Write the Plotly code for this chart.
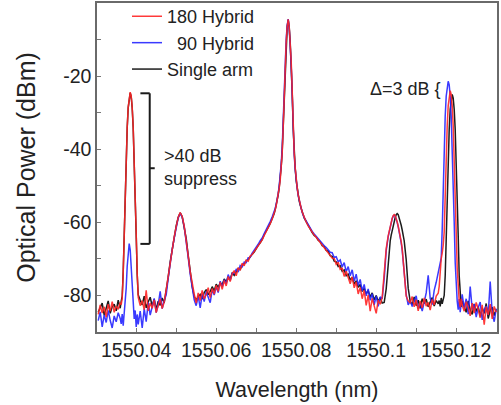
import plotly.graph_objects as go


# -----------------------------
# 1) DATA (read off the spectrum)
# -----------------------------
# wavelength sample points, in pm above 1550 nm
offset_pm = [
    30.5, 31.0, 31.5, 32.0, 32.5, 33.0, 33.5, 34.0, 34.5, 35.0, 35.5, 36.0,
    36.25, 36.5, 36.75, 37.0, 37.25, 37.5, 37.75, 38.0, 38.25, 38.5, 38.75, 39.0,
    39.25, 39.5, 39.75, 40.0, 40.25, 40.5,
    41.0, 41.5, 42.0, 42.5, 43.0, 43.5, 44.0, 44.5, 45.0, 45.5, 46.0, 46.5, 47.0,
    47.5, 48.0, 48.5, 49.0, 49.5, 50.0, 50.5, 51.0, 51.5, 52.0, 52.5, 53.0, 53.5,
    54.0, 54.5,
    55.0, 55.5, 56.0, 56.5, 57.0, 57.5, 58.0, 58.5, 59.0, 59.5, 60.0, 60.5, 61.0,
    61.5, 62.0, 62.5, 63.0, 63.5, 64.0, 64.5, 65.0, 65.5, 66.0, 66.5, 67.0, 67.5,
    68.0, 68.5, 69.0, 69.5, 70.0, 70.5, 71.0, 71.5, 72.0, 72.5, 73.0, 73.5, 74.0,
    74.5,
    74.75, 75.0, 75.25, 75.5, 75.75, 76.0, 76.25, 76.5, 76.75, 77.0, 77.25, 77.5,
    77.75, 78.0, 78.25, 78.5, 78.75, 79.0, 79.25, 79.5, 79.75, 80.0, 80.25, 80.5,
    80.75, 81.0, 81.25, 81.5,
    82.0, 82.5, 83.0, 83.5, 84.0, 84.5, 85.0, 85.5, 86.0, 86.5, 87.0, 87.5, 88.0,
    88.5, 89.0, 89.5, 90.0, 90.5, 91.0, 91.5, 92.0, 92.5, 93.0, 93.5, 94.0, 94.5,
    95.0, 95.5, 96.0, 96.5, 97.0, 97.5, 98.0, 98.5, 99.0, 99.5, 100.0, 100.5,
    101.0, 101.5,
    102.0, 102.5, 103.0, 103.25, 103.5, 103.75, 104.0, 104.25, 104.5, 104.75,
    105.0, 105.25, 105.5, 105.75, 106.0, 106.25, 106.5, 106.75, 107.0, 107.5, 108.0,
    108.5, 109.0, 109.5, 110.0, 110.5, 111.0, 111.5, 112.0, 112.5, 113.0, 113.5,
    114.0, 114.5, 115.0, 115.5,
    115.75, 116.0, 116.25, 116.5, 116.75, 117.0, 117.25, 117.5, 117.75, 118.0,
    118.25, 118.5, 118.75, 119.0, 119.25, 119.5, 119.75, 120.0, 120.25, 120.5,
    120.75, 121.0, 121.25, 121.5,
    122.0, 122.5, 123.0, 123.5, 124.0, 124.5, 125.0, 125.5, 126.0, 126.5, 127.0,
    127.5, 128.0, 128.5, 129.0, 129.5, 130.0,
]

# optical power (dBm), 180 hybrid
power_180 = [
    -85.2, -82.6, -84.8, -83.1, -85.9, -82.4, -84.3, -81.7, -84.6, -82.9, -83.8, -81.9,
    -82.5, -80.8, -74.0, -63.0, -52.0, -42.0, -34.0, -28.5, -25.4, -24.4, -25.4, -28.5,
    -34.0, -42.0, -52.0, -63.0, -74.0, -80.5,
    -82.8, -81.4, -83.9, -78.6, -84.2, -82.1, -83.5, -81.2, -84.7, -82.4, -80.9, -83.6, -81.8,
    -78.4, -74.6, -70.5, -67.0, -64.0, -61.2, -58.6, -57.3, -58.4, -61.0, -64.6, -69.2, -73.5,
    -77.2, -79.6,
    -82.1, -79.3, -81.4, -78.6, -80.9, -79.8, -77.9, -80.6, -78.1, -79.6, -77.2, -78.9, -76.4,
    -78.3, -75.9, -77.4, -74.8, -76.2, -74.1, -73.2, -74.6, -72.4, -73.1, -71.2, -71.9, -70.3,
    -70.6, -69.2, -68.8, -68.0, -67.2, -66.6, -65.5, -64.8, -63.6, -62.6, -61.6, -60.4, -59.1,
    -57.7,
    -56.6, -55.4, -54.1, -52.6, -50.6, -48.5, -45.0, -41.0, -34.0, -24.0, -16.0, -10.5,
    -6.5, -4.5, -6.5, -10.5, -16.0, -24.0, -34.0, -41.0, -45.0, -48.5, -50.6, -52.5,
    -54.0, -55.2, -56.2, -57.2,
    -58.7, -59.9, -61.0, -61.9, -62.7, -63.5, -64.1, -64.8, -65.4, -66.2, -66.7, -67.6, -68.1,
    -68.9, -69.8, -69.9, -71.5, -70.9, -72.9, -72.6, -74.8, -73.4, -75.2, -76.8, -74.9, -77.9,
    -76.3, -79.6, -77.8, -80.9, -78.6, -82.7, -79.9, -84.3, -80.8, -82.6, -84.9, -81.3,
    -82.4, -80.6,
    -74.5, -67.2, -63.7, -62.3, -61.0, -59.9, -58.9, -58.2, -57.9, -58.2,
    -58.9, -59.9, -61.0, -62.3, -63.7, -65.3, -67.2, -70.3, -74.2, -80.2, -81.5,
    -82.0, -80.3, -83.1, -81.2, -84.2, -81.5, -83.4, -80.7, -82.9, -81.9, -84.0,
    -81.1, -82.6, -80.2, -79.4,
    -77.5, -72.5, -70.0, -68.4, -66.3, -62.6, -51.6, -41.6, -33.6, -28.1,
    -25.0, -24.0, -25.0, -28.1, -33.6, -41.6, -51.6, -62.6, -72.5, -78.6,
    -81.4, -83.2, -80.9, -82.6,
    -84.3, -81.7, -83.2, -85.6, -82.1, -84.8, -81.9, -83.7, -86.1, -82.6, -88.0,
    -83.1, -85.3, -82.4, -86.4, -83.0, -84.6,
]

# optical power (dBm), 90 hybrid
power_90 = [
    -86.9, -84.5, -88.6, -85.3, -87.4, -84.1, -86.8, -88.9, -85.6, -87.2, -84.7, -86.3,
    -87.8, -85.1, -88.3, -84.6, -82.8, -78.0, -72.0, -67.5, -65.8, -67.5, -72.0, -78.0,
    -83.2, -86.4, -84.1, -88.6, -85.2, -87.9,
    -84.3, -88.9, -83.6, -87.2, -81.9, -85.4, -83.1, -80.8, -84.7, -82.5, -78.9, -83.6, -81.4,
    -79.8, -75.3, -70.9, -67.4, -64.3, -61.3, -58.8, -57.5, -58.6, -61.2, -64.9, -69.6, -74.2,
    -78.4, -81.2,
    -82.8, -80.1, -83.4, -79.6, -81.7, -78.9, -80.5, -82.0, -78.4, -79.9, -77.6, -79.2, -76.1,
    -77.7, -75.7, -76.8, -74.3, -75.9, -73.9, -74.0, -72.9, -73.6, -71.8, -72.2, -70.9, -71.0,
    -69.7, -69.6, -68.4, -67.7, -66.9, -66.0, -65.0, -64.3, -63.1, -62.1, -60.9, -59.8, -58.5,
    -57.1,
    -56.2, -55.0, -53.7, -52.1, -50.0, -47.7, -44.0, -39.5, -32.0, -22.3, -15.0, -9.8,
    -6.1, -4.4, -6.9, -11.2, -17.0, -25.2, -35.0, -41.6, -45.5, -48.8, -50.8, -52.7,
    -54.1, -55.3, -56.3, -57.3,
    -58.7, -59.7, -60.8, -61.7, -62.5, -63.2, -63.9, -64.4, -65.2, -65.7, -66.4, -66.9, -67.5,
    -68.2, -68.3, -69.6, -69.4, -70.8, -70.3, -72.2, -71.0, -73.5, -72.1, -74.6, -73.0, -76.1,
    -74.2, -77.3, -75.6, -78.8, -77.0, -80.1, -78.2, -81.3, -79.5, -82.6, -80.1, -83.0,
    -80.4, -80.9,
    -75.4, -67.8, -63.9, -62.4, -61.1, -60.0, -59.0, -58.3, -58.0, -58.3,
    -59.0, -60.0, -61.2, -62.5, -64.0, -65.6, -67.6, -70.8, -74.6, -79.8, -82.6,
    -81.5, -83.0, -81.2, -80.1, -83.6, -82.0, -84.3, -81.6, -79.3, -74.5, -80.8,
    -82.5, -78.6, -76.4, -73.8,
    -73.0, -71.2, -69.8, -62.0, -49.0, -39.0, -31.0, -25.5, -22.4, -21.4,
    -22.4, -25.5, -31.0, -39.0, -49.0, -60.0, -71.0, -78.5, -81.6, -83.9,
    -81.0, -84.6, -82.3, -79.7,
    -83.5, -80.9, -85.1, -77.6, -83.8, -82.4, -85.9, -83.3, -81.8, -86.7, -84.0,
    -82.9, -85.4, -76.2, -84.8, -87.2, -83.6,
]

# optical power (dBm), single arm
power_single = [
    -84.6, -83.3, -82.1, -85.4, -83.7, -81.5, -84.9, -83.1, -82.4, -84.2, -81.3, -83.5,
    -81.6, -80.2, -73.5, -62.5, -51.8, -42.0, -34.2, -28.7, -25.6, -24.6, -25.6, -28.7,
    -34.2, -42.2, -52.3, -63.5, -74.2, -79.8,
    -81.3, -82.6, -80.2, -83.4, -81.8, -80.5, -82.9, -81.1, -83.8, -81.6, -82.7, -80.7, -82.0,
    -79.0, -75.0, -70.8, -67.2, -64.1, -61.0, -58.7, -57.4, -58.5, -61.1, -64.4, -69.0, -73.8,
    -77.6, -80.3,
    -81.2, -80.4, -79.7, -81.0, -79.2, -78.4, -79.8, -78.9, -77.6, -78.8, -76.9, -77.8, -76.6,
    -77.1, -75.5, -76.3, -74.9, -75.6, -73.8, -74.5, -73.5, -72.6, -72.9, -71.6, -71.4, -70.5,
    -70.2, -69.3, -68.7, -68.1, -67.0, -66.3, -65.6, -64.7, -63.4, -62.5, -61.4, -60.3, -59.0,
    -57.6,
    -56.5, -55.3, -54.0, -52.5, -50.5, -48.4, -44.8, -40.6, -33.6, -23.8, -15.9, -10.4,
    -6.5, -4.6, -6.6, -10.7, -16.3, -24.4, -34.3, -41.2, -45.2, -48.6, -50.7, -52.6,
    -54.1, -55.3, -56.3, -57.3,
    -58.8, -59.8, -60.9, -61.8, -62.8, -63.6, -64.0, -64.9, -65.3, -66.4, -66.6, -67.7, -67.9,
    -69.1, -69.3, -70.6, -70.8, -72.1, -71.9, -73.4, -73.0, -74.6, -74.2, -75.8, -75.1, -76.9,
    -76.0, -77.8, -77.0, -78.9, -78.1, -79.5, -78.7, -80.4, -79.3, -81.2, -80.0, -81.6,
    -80.6, -82.1,
    -81.9, -78.2, -70.2, -67.0, -65.1, -63.5, -62.1, -60.8, -59.7, -58.7,
    -57.9, -57.6, -57.9, -58.7, -59.7, -60.8, -62.1, -63.5, -65.1, -70.2, -78.0,
    -81.6, -82.5, -80.4, -82.8, -81.3, -83.5, -80.9, -82.2, -81.0, -83.1, -81.8,
    -80.6, -82.9, -81.4, -82.3,
    -81.4, -83.0, -80.7, -82.3, -81.1, -80.0, -74.6, -63.6, -52.6, -42.6,
    -34.6, -29.1, -26.0, -25.0, -26.0, -29.1, -34.6, -42.6, -52.6, -63.6,
    -74.6, -80.8, -83.1, -81.5,
    -82.8, -84.6, -81.5, -83.9, -85.2, -82.3, -84.4, -83.0, -85.7, -83.4, -84.9,
    -82.2, -86.3, -84.0, -83.2, -85.5, -83.8,
]

x_tick_vals = [1550.04, 1550.05, 1550.06, 1550.07, 1550.08, 1550.09, 1550.10, 1550.11, 1550.12]
x_tick_text = ["1550.04", "", "1550.06", "", "1550.08", "", "1550.1", "", "1550.12"]
y_tick_vals = [-80, -70, -60, -50, -40, -30, -20, -10]
y_tick_text = ["-80", "", "-60", "", "-40", "", "-20", ""]

FONT = "Liberation Sans, Arial, Helvetica, sans-serif"


# -----------------------------
# 2) Build figure
# -----------------------------
def build_figure():
    wavelength = [1550 + p / 1000 for p in offset_pm]

    fig = go.Figure()
    # single arm underneath, then 90 / 180 hybrid on top
    fig.add_trace(go.Scatter(x=wavelength, y=power_single, mode="lines", name="Single arm",
                             line=dict(color="#1c1c1c", width=1.5), legendrank=3))
    fig.add_trace(go.Scatter(x=wavelength, y=power_90, mode="lines", name="\u00a0\u00a090 Hybrid",
                             line=dict(color="#2525ff", width=1.5), opacity=0.9, legendrank=2))
    fig.add_trace(go.Scatter(x=wavelength, y=power_180, mode="lines", name="180 Hybrid",
                             line=dict(color="#ff2424", width=1.5), opacity=0.9, legendrank=1))

    axis_common = dict(showline=True, linecolor="#6a6a6a", linewidth=1.5, mirror=True,
                       ticks="inside", ticklen=4, tickwidth=1, tickcolor="#777777",
                       showgrid=False, zeroline=False, automargin=False,
                       tickfont=dict(size=19.5, family=FONT, color="#222222"))

    fig.update_xaxes(range=[1550.0302, 1550.1302], tickmode="array",
                     tickvals=x_tick_vals, ticktext=x_tick_text,
                     title=dict(text="Wavelength (nm)", font=dict(size=21.5, family=FONT),
                                standoff=22),
                     **axis_common)
    fig.update_yaxes(range=[-90, 0], tickmode="array",
                     tickvals=y_tick_vals, ticktext=y_tick_text,
                     title=dict(text="Optical Power (dBm)", font=dict(size=25, family=FONT),
                                standoff=20),
                     **axis_common)

    # bracket marking the suppressed sideband
    bx, bl, br = 1550.04338, 1550.04105, 1550.04463
    bracket = [
        (bx, -24.7, bx, -65.9),
        (bl, -24.7, bx, -24.7),
        (bl, -65.9, bx, -65.9),
        (bx, -45.2, br, -45.2),
    ]
    for x0, y0, x1, y1 in bracket:
        fig.add_shape(type="line", xref="x", yref="y", x0=x0, y0=y0, x1=x1, y1=y1,
                      line=dict(color="#1a1a1a", width=2))

    fig.add_annotation(x=1550.04638, y=-44.9, xref="x", yref="y", text="&gt;40 dB<br>suppress",
                       showarrow=False, xanchor="left", yanchor="middle", align="left",
                       font=dict(size=18, family=FONT, color="#222222"))
    fig.add_annotation(x=1550.10737, y=-23.4, xref="x", yref="y", text="\u0394=3 dB {",
                       showarrow=False, xanchor="center", yanchor="middle",
                       font=dict(size=18, family=FONT, color="#222222"))

    fig.update_layout(
        width=501, height=405,
        margin=dict(l=97, r=4, t=3, b=73, autoexpand=False),
        paper_bgcolor="white", plot_bgcolor="white",
        font=dict(family=FONT, color="#222222"),
        legend=dict(x=0.075, y=1.015, xanchor="left", yanchor="top",
                    bgcolor="rgba(0,0,0,0)", font=dict(size=18, family=FONT),
                    tracegroupgap=0),
    )
    return fig


# -----------------------------
# MAIN
# -----------------------------
def main():
    fig = build_figure()
    # drop the browser's default page margin so the chart sits at (0, 0)
    fig.write_html("out.html", config={"displayModeBar": False},
                   post_script="document.body.style.margin = '0';")


if __name__ == "__main__":
    main()
